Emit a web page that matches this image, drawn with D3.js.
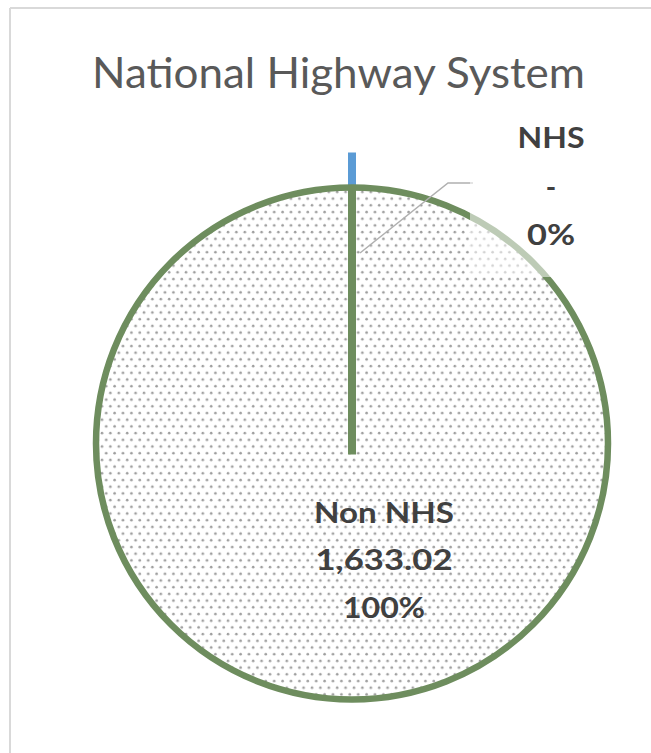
<!DOCTYPE html>
<html>
<head>
<meta charset="utf-8">
<script src="https://cdn.jsdelivr.net/npm/d3@7"></script>
<style>
  html, body { margin: 0; padding: 0; background: #ffffff; }
  svg { display: block; }
</style>
</head>
<body>
<script>
const chartTitle = "National Highway System";
const categories = ["NHS", "Non NHS"];
const values = [0, 1633.02];
const valueLabels = ["-", "1,633.02"];
const percentLabels = ["0%", "100%"];

const W = 651, H = 753;
const svg = d3.select("body").append("svg").attr("width", W).attr("height", H);

// pattern fill (dotted)
const defs = svg.append("defs");
const pat = defs.append("pattern").attr("id", "dots")
  .attr("patternUnits", "userSpaceOnUse").attr("width", 8.4).attr("height", 13.4);
pat.append("rect").attr("width", 8.4).attr("height", 13.4).attr("fill", "#ffffff");
pat.append("circle").attr("cx", 2).attr("cy", 3).attr("r", 1.3).attr("fill", "#9e9e9e");
pat.append("circle").attr("cx", 6.2).attr("cy", 9.7).attr("r", 1.3).attr("fill", "#9e9e9e");

// frame
svg.append("line").attr("x1", 10).attr("y1", 8).attr("x2", W).attr("y2", 8)
  .attr("stroke", "#d9d9d9").attr("stroke-width", 2);
svg.append("line").attr("x1", 10).attr("y1", 8).attr("x2", 10).attr("y2", H)
  .attr("stroke", "#d9d9d9").attr("stroke-width", 2);

// title
svg.append("text").attr("x", 92).attr("y", 88)
  .attr("font-family", "Lato, 'Open Sans', sans-serif").attr("font-size", 42)
  .attr("fill", "#595959").attr("textLength", 493).attr("lengthAdjust", "spacingAndGlyphs")
  .text(chartTitle);

const cx = 352, cy = 443.5, r = 256;
const explode = 35;
const pie = d3.pie().sort(null).value(d => d);
const arcs = pie(values);
const arc = d3.arc().innerRadius(0).outerRadius(r);
const g = svg.append("g").attr("transform", `translate(${cx},${cy})`);

const colors = ["#5b9bd5", "#6e8d5e"];

// zero-size NHS slice (exploded) drawn as a radial line
arcs.forEach((a, i) => {
  if (a.endAngle - a.startAngle < 1e-9) {
    const off = d3.pointRadial(a.startAngle, explode);
    const p = d3.pointRadial(a.startAngle, r + explode);
    g.append("line")
      .attr("x1", off[0]).attr("y1", off[1]).attr("x2", p[0]).attr("y2", p[1])
      .attr("stroke", colors[i]).attr("stroke-width", 8);
  }
});

// main slice(s)
arcs.forEach((a, i) => {
  if (a.endAngle - a.startAngle >= 1e-9) {
    g.append("path").attr("d", arc(a))
      .attr("fill", "url(#dots)").attr("stroke", colors[i]).attr("stroke-width", 6.5);
    const p = d3.pointRadial(a.startAngle, r);
    g.append("line").attr("x1", 0).attr("y1", 11).attr("x2", p[0]).attr("y2", p[1])
      .attr("stroke", colors[i]).attr("stroke-width", 8);
  }
});

// leader line for NHS label
svg.append("polyline")
  .attr("points", [[360, 253], [448, 183], [473, 183]].map(p => p.join(",")).join(" "))
  .attr("fill", "none").attr("stroke", "#b0b0b0").attr("stroke-width", 1.5);

// semi-transparent label box for NHS
svg.append("rect").attr("x", 470).attr("y", 118).attr("width", 160).attr("height", 159)
  .attr("fill", "#ffffff").attr("opacity", 0.55);

const font = "Lato, 'Open Sans', sans-serif";
function label(lines, xc, baselines, widths) {
  lines.forEach((t, i) => {
    const el = svg.append("text").attr("x", xc).attr("y", baselines[i])
      .attr("text-anchor", "middle").attr("font-family", font)
      .attr("font-weight", "bold").attr("font-size", 28).attr("fill", "#404040")
      .text(t);
    if (widths[i]) el.attr("textLength", widths[i]).attr("lengthAdjust", "spacingAndGlyphs");
  });
}
label([categories[0], valueLabels[0], percentLabels[0]], 551, [148, 196.5, 245], [67, 0, 48]);
label([categories[1], valueLabels[1], percentLabels[1]], 384, [523, 570, 618], [140, 137, 82]);
</script>
</body>
</html>
